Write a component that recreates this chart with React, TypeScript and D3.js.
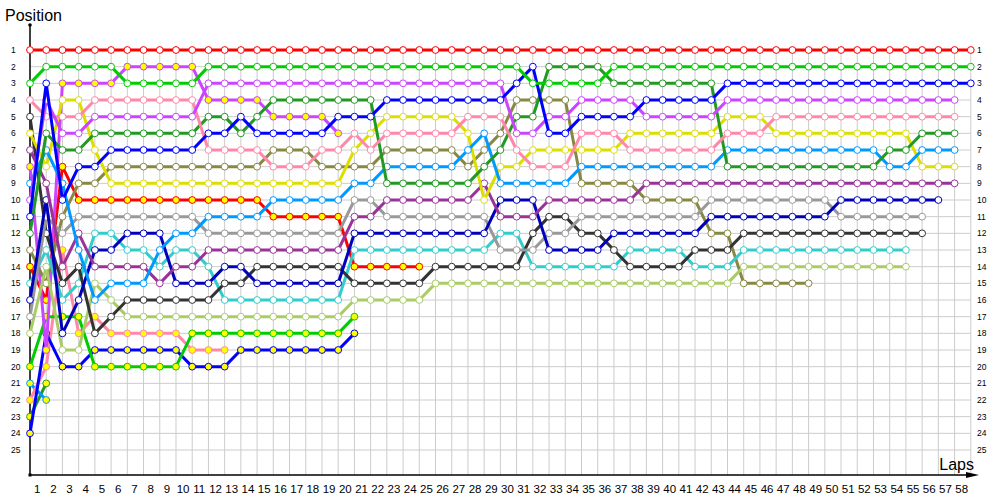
import React from 'react';
import * as d3 from 'd3';

// position of each driver at the end of every lap (index 0 = grid)
const red = [1,1,1,1,1,1,1,1,1,1, 1,1,1,1,1,1,1,1,1,1, 1,1,1,1,1,1,1,1,1,1, 1,1,1,1,1,1,1,1,1,1, 1,1,1,1,1,1,1,1,1,1, 1,1,1,1,1,1,1,1,1];
const green = [3,2,2,2,2,2,3,3,3,3, 3,2,2,2,2,2,2,2,2,2, 2,2,2,2,2,2,2,2,2,2, 2,3,3,3,3,3,2,2,2,2, 2,2,2,2,2,2,2,2,2,2, 2,2,2,2,2,2,2,2,2];
const blue = [11,3,10,8,8,7,7,7,7,7, 7,6,6,5,6,6,6,6,6,5, 5,5,4,4,4,4,4,4,4,4, 3,2,6,6,5,5,5,5,4,4, 4,4,4,3,3,3,3,3,3,3, 3,3,3,3,3,3,3,3,3];
const magenta = [10,4,6,6,5,5,5,5,5,5, 5,3,3,3,3,3,3,3,3,3, 3,3,3,3,3,3,3,3,3,3, 6,6,5,5,4,4,4,4,5,5, 5,5,5,4,4,4,4,4,4,4, 4,4,4,4,4,4,4,4];
const pink = [4,5,5,5,4,4,4,4,4,4, 4,7,7,7,7,8,8,8,7,7, 6,7,6,6,6,6,6,5,5,5, 7,8,8,8,6,6,6,7,7,7, 7,7,7,6,6,6,5,5,5,5, 5,5,5,5,5,5,5,5];
const darkGreen = [12,6,7,7,6,6,6,6,6,6, 6,5,5,6,5,4,4,4,4,4, 4,4,9,9,9,9,9,9,8,7, 5,5,2,2,2,2,3,3,3,3, 3,3,3,8,8,8,8,8,8,8, 8,8,8,7,7,6,6,6];
const lightBlue = [9,7,9,13,16,15,15,15,13,12, 12,11,11,11,11,10,10,10,10,10, 9,9,8,8,8,8,8,7,6,9, 9,9,9,9,8,8,8,8,8,8, 8,8,8,7,7,7,7,7,7,7, 7,7,7,8,8,7,7,7];
const yellow = [6,8,4,4,7,9,9,9,9,9, 9,9,9,9,9,9,9,9,9,9, 7,6,5,5,5,5,5,6,10,8, 8,7,7,7,7,7,7,6,6,6, 6,6,6,5,5,5,6,6,6,6, 6,6,6,6,6,8,8,8];
const purple = [7,9,14,12,14,14,14,14,15,14, 14,13,13,13,13,13,13,13,13,13, 11,11,10,10,10,10,10,10,9,11, 11,11,10,10,10,10,10,10,9,9, 9,9,9,9,9,9,9,9,9,9, 9,9,9,9,9,9,9,9];
const navy = [16,10,18,16,13,13,12,12,12,15, 15,15,14,14,15,15,15,15,15,15, 12,12,12,12,12,12,12,12,12,10, 10,10,13,13,13,13,12,12,12,12, 12,12,11,11,11,11,11,11,11,11, 10,10,10,10,10,10,10];
const grey = [17,11,12,11,11,11,11,11,11,11, 11,12,12,12,12,12,12,12,12,12, 10,10,11,11,11,11,11,11,11,13, 13,13,12,12,11,11,11,11,11,11, 11,11,10,10,10,10,10,10,10,10, 11,11,11,11,11,11];
const darkGrey = [5,12,15,14,18,17,16,16,16,16, 16,16,15,15,14,14,14,14,14,14, 15,15,15,15,15,14,14,14,14,14, 14,12,11,11,12,12,13,14,14,14, 14,13,13,13,12,12,12,12,12,12, 12,12,12,12,12,12];
const cyan = [15,13,16,15,12,12,13,13,14,13, 13,14,16,16,16,16,16,16,16,16, 13,13,13,13,13,13,13,13,13,12, 12,14,14,14,14,14,14,13,13,13, 13,14,14,14,13,13,13,13,13,13, 13,13,13,13,13];
const lightOlive = [18,14,19,19,15,16,17,17,17,17, 17,17,17,17,17,17,17,17,17,17, 16,16,16,16,16,15,15,15,15,15, 15,15,15,15,15,15,15,15,15,15, 15,15,15,15,14,14,14,14,14,14, 14,14,14,14,14];
const olive = [13,15,11,9,9,8,8,8,8,8, 8,8,8,8,8,7,7,7,8,8, 8,8,7,7,7,7,7,8,7,6, 4,4,4,4,9,9,9,9,10,10, 10,10,12,12,15,15,15,15,15];
const magentaOut = [8,19,3,3,3,3,2,2,2,2, 2,4,4,4,4,5,5,5,5,6];
const redOut = [14,16,8,10,10,10,10,10,10,10, 10,10,10,10,10,11,11,11,11,11, 14,14,14,14,14];
const greenOut = [20,17,17,17,20,20,20,20,20,20, 18,18,18,18,18,18,18,18,18,18, 17];
const blueOut = [24,18,20,20,19,19,19,19,19,19, 20,20,20,19,19,19,19,19,19,19, 18];
const pinkOut = [22,20,13,18,17,18,18,18,18,18, 19,19,19];
const lightBlueOut = [21,22];
const darkGreenOut = [23,21];

const lapTicks = d3.range(1, 59);
const positionTicks = d3.range(1, 26);

// retired cars are drawn with yellow markers
const drivers = [
  { pos: darkGreenOut, color: '#229922', out: true },
  { pos: lightBlueOut, color: '#0099ff', out: true },
  { pos: pinkOut, color: '#ff88aa', out: true },
  { pos: blueOut, color: '#0000ff', out: true },
  { pos: greenOut, color: '#00cc00', out: true },
  { pos: redOut, color: '#ff0000', out: true },
  { pos: magentaOut, color: '#cc44ff', out: true },
  { pos: olive, color: '#888844', out: false },
  { pos: lightOlive, color: '#aacc66', out: false },
  { pos: cyan, color: '#33cccc', out: false },
  { pos: darkGrey, color: '#333333', out: false },
  { pos: grey, color: '#999999', out: false },
  { pos: navy, color: '#0000bb', out: false },
  { pos: purple, color: '#993399', out: false },
  { pos: yellow, color: '#dddd00', out: false },
  { pos: lightBlue, color: '#0099ff', out: false },
  { pos: darkGreen, color: '#229922', out: false },
  { pos: pink, color: '#ff88aa', out: false },
  { pos: magenta, color: '#cc44ff', out: false },
  { pos: blue, color: '#0000ff', out: false },
  { pos: green, color: '#00cc00', out: false },
  { pos: red, color: '#ff0000', out: false },
];

export default function App() {
  const width = 1000, height = 500;
  const x = d3.scaleLinear().domain([0, 58]).range([30, 970.8]);
  const y = d3.scaleLinear().domain([1, 25]).range([50, 450]);
  const axisY = 475;
  const font = 'Liberation Sans, Arial, sans-serif';

  const line = d3.line<number>()
    .x((d, i) => x(i))
    .y(d => y(d));

  return (
    <svg width={width} height={height} style={{ position: 'absolute', left: 0, top: 0, background: '#fff' }}>
      {/* grid */}
      <g stroke="#cccccc" strokeWidth={1}>
        {lapTicks.map(l => (
          <line key={'v' + l} x1={x(l)} x2={x(l)} y1={46} y2={axisY} />
        ))}
        {positionTicks.map(p => (
          <line key={'h' + p} x1={30} x2={x(58)} y1={y(p)} y2={y(p)} />
        ))}
      </g>

      {/* axes */}
      <line x1={30} x2={30} y1={25} y2={axisY} stroke="#000" strokeWidth={1.5} />
      <circle cx={30} cy={25} r={1.8} fill="#000" />
      <line x1={30} x2={975} y1={axisY} y2={axisY} stroke="#000" strokeWidth={1.5} />
      <path d={`M${979},${axisY} L${966},${axisY - 3} L${966},${axisY + 3} Z`} fill="#000" />
      <rect x={28.5} y={axisY - 1.5} width={3} height={3} fill="#000" />

      <text x={5} y={21} fontFamily={font} fontSize={16} fill="#000">Position</text>
      <text x={974} y={470} fontFamily={font} fontSize={16} fill="#000" textAnchor="end">Laps</text>

      {/* position labels both sides */}
      <g fontFamily={font} fontSize={8.5} fill="#000">
        {positionTicks.map(p => (
          <text key={'l' + p} x={11} y={y(p) + 3}>{p}</text>
        ))}
        {positionTicks.map(p => (
          <text key={'r' + p} x={977} y={y(p) + 3}>{p}</text>
        ))}
      </g>

      {/* lap labels */}
      <g fontFamily={font} fontSize={11.5} fill="#000" textAnchor="middle">
        {lapTicks.map(l => (
          <text key={'t' + l} x={x(l - 0.5) - 1} y={493}>{l}</text>
        ))}
      </g>

      {/* drivers */}
      {drivers.map((d, k) => (
        <g key={k}>
          <path d={line(d.pos) || ''} fill="none" stroke={d.color} strokeWidth={3} strokeLinejoin="round" />
          {d.pos.map((p, i) => (
            <circle key={i} cx={x(i)} cy={y(p)} r={3.4}
              fill={d.out ? '#ffff00' : '#ffffff'} stroke={d.color} strokeWidth={1} />
          ))}
        </g>
      ))}
    </svg>
  );
}
